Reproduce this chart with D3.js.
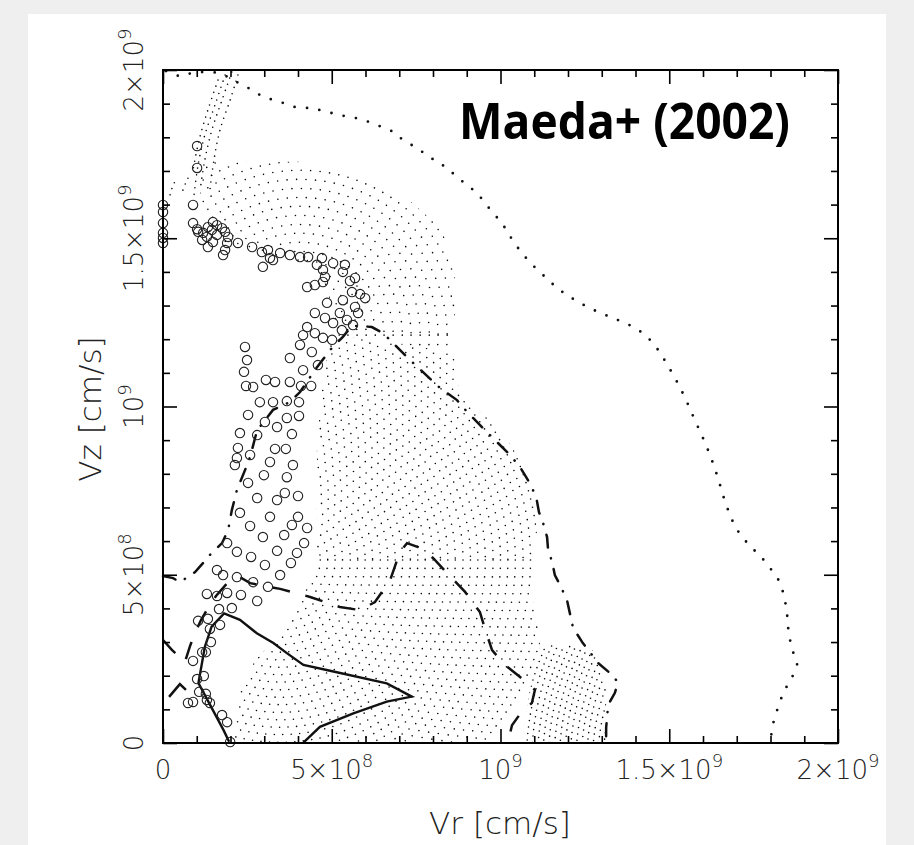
<!DOCTYPE html>
<html>
<head>
<meta charset="utf-8">
<script src="https://cdn.jsdelivr.net/npm/d3@7"></script>
<style>
  html, body { margin: 0; padding: 0; background: #efefef; }
  svg { display: block; }
</style>
</head>
<body>
<svg id="chart" width="914" height="845"></svg>
<script>
// All velocities in units of 1e8 cm/s: [Vr, Vz]

// axis ticks
const majorTicks = [0, 5, 10, 15, 20];
const minorTicks = [1,2,3,4,6,7,8,9,11,12,13,14,16,17,18,19];
const tickLabels = [["0", ""], ["5×10", "8"], ["10", "9"], ["1.5×10", "9"], ["2×10", "9"]];

// outer dotted contour
const outerDotted = [[0.09,19.97],[0.50,19.82],[0.86,19.91],[1.24,19.94],[1.63,19.91],[1.93,19.79],
  [2.19,19.64],[2.52,19.47],[2.87,19.26],[3.17,19.14],[3.56,19.02],[3.91,18.90],[4.30,18.87],
  [4.65,18.81],[5.24,18.66],[5.84,18.54],[6.43,18.33],[6.87,18.13],[7.11,17.92],[7.47,17.71],
  [7.82,17.47],[8.12,17.27],[8.41,17.09],[8.71,16.82],[9.01,16.58],[9.30,16.34],[9.54,16.05],
  [9.78,15.75],[10.04,15.45],[10.22,15.16],[10.52,14.71],[10.87,14.29],[11.32,13.85],[11.76,13.46],
  [12.30,13.11],[12.89,12.81],[13.48,12.57],[13.99,12.33],[14.37,12.04],[14.67,11.68],[14.93,11.26],
  [15.20,10.79],[15.47,10.25],[15.73,9.66],[16.00,9.06],[16.24,8.47],[16.44,7.88],[16.62,7.28],
  [16.80,6.78],[16.98,6.39],[17.24,6.03],[17.48,5.77],[17.72,5.53],[17.96,5.23],[18.19,4.93],
  [18.34,4.58],[18.43,4.22],[18.49,3.83],[18.52,3.45],[18.58,3.06],[18.67,2.70],[18.79,2.38],
  [18.67,2.02],[18.52,1.75],[18.37,1.46],[18.25,1.13],[18.13,0.77],[18.04,0.39],[18.01,0.00]];

// dash-dot contour
const dashDot = [[0.00,4.96],[0.30,4.90],[0.50,4.78],[0.95,5.08],[1.19,5.35],[1.39,5.59],[1.75,5.94],
  [1.93,6.33],[2.04,6.92],[2.19,7.52],[2.43,8.11],[2.58,8.50],[2.79,9.30],[2.96,9.51],[3.26,9.90],
  [3.76,10.13],[4.06,10.43],[4.50,11.08],[4.95,11.68],[5.33,12.07],[5.60,12.39],[5.90,12.39],
  [6.19,12.36],[6.52,12.18],[6.87,11.83],[7.32,11.38],[7.76,10.97],[8.21,10.55],[8.71,10.19],
  [9.01,9.84],[9.48,9.36],[9.78,9.06],[10.28,8.56],[10.58,8.20],[10.76,7.90],[10.93,7.61],
  [11.08,7.19],[11.14,6.86],[11.26,6.54],[11.38,6.12],[11.41,5.74],[11.53,5.38],[11.61,4.99],
  [11.76,4.70],[11.97,4.25],[12.15,3.42],[12.44,2.97],[12.71,2.62],[12.89,2.38],[13.24,2.08],
  [13.48,1.81],[13.39,1.49],[13.19,1.13],[13.13,0.45],[13.13,0.00]];

// dashed contour
const dashed = [[0.00,3.06],[0.27,2.76],[0.65,2.41],[0.80,2.88],[0.95,3.27],[1.13,3.66],[1.33,4.01],
  [1.57,4.37],[1.93,4.78],[2.28,4.93],[2.58,4.75],[3.47,4.58],[4.36,4.34],[5.24,4.04],[5.84,3.95],
  [6.28,4.19],[6.73,4.84],[7.02,5.68],[7.23,5.94],[7.56,5.82],[8.00,5.50],[8.50,4.96],[8.95,4.49],
  [9.39,3.89],[9.57,3.30],[9.75,2.76],[10.13,2.32],[10.58,1.96],[11.02,1.58],[10.93,1.19],
  [10.58,0.86],[10.34,0.53],[10.22,0.00]];
const dashedPiece = [[0.18,1.37],[0.50,1.75],[0.68,1.58]];

// solid contour
const solid = [[1.96,0.04],[1.79,0.39],[1.05,1.78],[1.24,2.86],[1.44,3.46],[1.81,3.85],[2.28,3.66],
  [2.78,3.26],[3.27,2.97],[3.67,2.67],[4.16,2.32],[4.85,2.17],[6.63,1.77],[7.37,1.38],[6.63,1.23],
  [5.64,0.88],[4.65,0.48],[4.16,0.01]];

// open-circle particles
const circles = [
  [0,15.99],[0,15.78],[0,15.45],[0,15.16],[0,15.01],[0,14.86],
  [1.01,17.74],[1.01,17.09],[0.89,15.99],[0.89,15.45],
  [1.04,15.19],[1.19,15.16],[1.33,15.33],[1.48,15.48],[1.60,15.39],[1.45,15.25],[1.30,15.04],
  [1.16,14.95],[1.33,14.74],[1.75,15.30],[1.84,15.19],[1.93,15.04],[1.90,14.86],[1.84,14.65],
  [1.78,14.50],[1.60,15.10],[1.48,14.89],[1.01,15.27],
  [2.22,14.86],[2.64,14.74],[2.93,14.59],[3.11,14.65],[3.17,14.41],[2.96,14.15],[3.26,14.35],
  [3.47,14.56],[3.76,14.50],[4.06,14.44],[4.27,13.55],
  [4.30,14.44],[4.71,14.41],[4.56,14.21],[4.74,14.06],[4.80,13.85],[4.74,13.70],[4.50,13.61],
  [5.04,14.26],[5.39,14.21],[5.33,14.00],[5.69,13.82],[5.54,13.73],[5.60,13.40],[5.84,13.34],
  [5.99,13.22],[5.33,13.16],[5.69,12.96],[5.78,12.78],[4.86,13.08],[5.24,12.78],[4.50,12.78],
  [4.80,12.63],[5.04,12.48],[5.45,12.57],[5.63,12.42],[5.30,12.27],[4.27,12.36],[4.50,12.18],
  [4.74,12.04],[5.01,11.98],[4.15,12.12],
  [4.06,11.83],[4.41,11.62],[3.76,11.44],[4.59,11.23],[4.15,11.08],[2.43,11.77],[2.49,11.38],[2.40,11.03],
  [2.46,10.61],[2.67,10.58],[3.05,10.79],[3.32,10.73],[3.76,10.73],[4.09,10.61],[4.39,10.61],
  [2.87,10.13],[3.26,10.13],[3.67,10.16],[4.03,10.13],[2.52,9.75],[3.67,9.66],[4.03,9.72],
  [3.02,9.54],[3.38,9.39],[2.28,9.21],[2.79,9.15],[3.82,9.18],[2.22,8.77],[2.19,8.47],[2.13,8.26],
  [2.58,8.56],[3.32,8.74],[3.64,8.74],[3.17,8.35],[3.85,8.26],[2.99,7.96],[3.67,7.90],[2.52,7.73],
  [2.79,7.28],[3.38,7.22],[3.61,7.43],[4.00,7.34],[2.28,6.84],[2.58,6.45],[3.17,6.72],[3.82,6.48],
  [4.00,6.72],[4.27,6.39],[2.96,6.12],[3.59,6.18],[1.90,5.94],[2.19,5.68],[2.61,5.53],[3.38,5.71],
  [3.97,5.65],[4.18,5.94],[1.60,5.14],[1.78,4.99],[2.19,4.93],[3.02,5.29],[3.47,4.99],[3.79,5.35],
  [2.67,4.78],[3.11,4.64],[1.30,4.43],[1.60,4.37],[1.90,4.46],[2.31,4.40],[2.79,4.22],[1.66,3.98],
  [2.04,4.01],[1.04,3.63],[1.33,3.69],[1.69,3.51],[1.39,3.39],[1.42,3.00],[1.16,2.70],[1.27,2.70],
  [0.89,2.44],[1.21,1.99],[1.01,1.90],[1.07,1.52],[1.27,1.46],[1.30,1.28],[1.39,1.19],[0.74,1.19],
  [0.89,1.22],[1.75,0.83],[1.90,0.62],[1.99,0.03]];

// dense particle field: rows of the mesh, each region traced as concentric arcs
const fanCenter = [4.06, 12.12];
const fanRadii = [0.89,1.16,1.42,1.69,1.96,2.23,2.49,2.76,3.03,3.29,3.56,3.83,4.09,4.36,4.63,4.90,5.16,5.43,5.70];
const fanOutline = [[1.10,17.09],[1.54,17.27],[4.06,17.27],[5.84,16.86],[7.32,16.11],[8.21,15.33],
  [8.65,14.29],[8.65,11.62],[5.10,12.12],[4.95,13.16],[4.65,14.00],[4.06,14.29],[3.17,14.50],
  [2.28,14.74],[1.45,15.01],[1.10,15.84]];

const bodyCenter = [3.47, 5.44];
const bodyRadii = [1.19,1.41,1.63,1.85,2.08,2.30,2.52,2.74,2.97,3.19,3.41,3.63,3.86,4.08,4.30,4.53,
  4.75,4.97,5.19,5.42,5.64,5.86,6.08,6.31,6.53,6.75,6.97,7.20,7.42,7.64,7.86,8.08];
const bodyOutline = [[5.10,12.12],[8.65,11.62],[8.74,10.64],[9.01,10.19],[9.78,9.51],[10.34,8.80],
  [10.79,8.11],[10.96,7.31],[11.08,6.33],[11.02,5.65],[10.93,4.99],[10.96,4.25],[11.11,3.51],
  [11.17,2.91],[10.87,1.58],[10.64,0],[2.07,0],[2.28,1.58],[2.73,2.47],[3.61,3.36],[4.21,4.55],
  [4.56,6.33],[4.56,8.71],[4.71,10.79],[4.95,11.83]];

const tailCenter = [18.87, -0.51];
const tailRadii = [5.82,5.98,6.14,6.31,6.47,6.63,6.80,6.96,7.12,7.28,7.45,7.61,7.77,7.94,8.10,8.26,8.43];
const tailOutline = [[11.17,2.91],[12.21,2.91],[12.74,2.76],[12.95,2.32],[13.13,1.58],[13.13,0],
  [10.64,0],[10.87,1.58]];

// narrow stream of particles near the top
const neckRows = [
  [[2.04,19.94],[1.75,19.11],[1.45,18.22],[1.24,17.33],[1.10,16.43]],
  [[1.84,19.85],[1.54,18.96],[1.24,18.07],[1.04,17.18],[0.92,16.29]],
  [[1.63,19.70],[1.33,18.81],[1.07,17.92],[0.89,17.03]],
  [[2.22,19.85],[1.99,19.11],[1.69,18.22],[1.51,17.33],[1.39,16.43]],
  [[0.21,16.29],[0.30,16.58],[0.42,16.79]],
  [[0.59,16.43],[0.71,16.73],[0.80,16.88]]
];

// ---------------------------------------------------------------
const svg = d3.select("#chart");
const plotLeft = 163, plotRight = 838, plotTop = 70, plotBottom = 743;
const x = d3.scaleLinear().domain([0, 20]).range([plotLeft, plotRight]);
const y = d3.scaleLinear().domain([0, 20]).range([plotBottom, plotTop]);

svg.append("rect").attr("x", 28).attr("y", 14).attr("width", 858).attr("height", 831).attr("fill", "#fff");

const defs = svg.append("defs");
const outline = d3.line().x(d => x(d[0])).y(d => y(d[1]));
[["clipFan", fanOutline], ["clipBody", bodyOutline], ["clipTail", tailOutline]].forEach(([id, pts]) => {
  defs.append("clipPath").attr("id", id).append("path").attr("d", outline(pts) + "Z");
});

const dotColor = "#0a0a0a";
function arcFamily(id, center, radii, gap) {
  svg.append("g").attr("clip-path", `url(#${id})`)
    .selectAll("ellipse").data(radii).join("ellipse")
    .attr("cx", x(center[0])).attr("cy", y(center[1]))
    .attr("rx", r => x(r) - x(0)).attr("ry", r => y(0) - y(r))
    .attr("fill", "none").attr("stroke", dotColor).attr("stroke-width", 1.6)
    .attr("stroke-linecap", "round").attr("stroke-dasharray", `0 ${gap}`);
}
arcFamily("clipFan", fanCenter, fanRadii, 9.5);
arcFamily("clipBody", bodyCenter, bodyRadii, 8.5);
arcFamily("clipTail", tailCenter, tailRadii, 6.5);

const straight = d3.line().x(d => x(d[0])).y(d => y(d[1]));
const smooth = d3.line().x(d => x(d[0])).y(d => y(d[1])).curve(d3.curveCatmullRom.alpha(0.5));

svg.append("g").selectAll("path").data(neckRows).join("path")
  .attr("d", smooth).attr("fill", "none").attr("stroke", dotColor).attr("stroke-width", 1.6)
  .attr("stroke-linecap", "round").attr("stroke-dasharray", "0 6.5");

// contours
svg.append("path").attr("d", smooth(outerDotted)).attr("fill", "none").attr("stroke", "#111")
  .attr("stroke-width", 2.8).attr("stroke-linecap", "round").attr("stroke-dasharray", "0 12.5");
svg.append("path").attr("d", straight(dashDot)).attr("fill", "none").attr("stroke", "#111")
  .attr("stroke-width", 2.5).attr("stroke-linecap", "round").attr("stroke-dasharray", "13 11 0.3 11");
svg.append("path").attr("d", straight(dashed)).attr("fill", "none").attr("stroke", "#111")
  .attr("stroke-width", 2.5).attr("stroke-dasharray", "18 16");
svg.append("path").attr("d", straight(dashedPiece)).attr("fill", "none").attr("stroke", "#111")
  .attr("stroke-width", 2.5);
svg.append("path").attr("d", straight(solid)).attr("fill", "none").attr("stroke", "#111")
  .attr("stroke-width", 2.4).attr("stroke-linejoin", "miter");

// particles
svg.append("g").selectAll("circle").data(circles).join("circle")
  .attr("cx", d => x(d[0])).attr("cy", d => y(d[1])).attr("r", 4.7)
  .attr("fill", "none").attr("stroke", "#222").attr("stroke-width", 1.1);

// frame and ticks (pointing inward on all four sides)
function ticks(axisFn, scale, values, size, transform) {
  const g = svg.append("g").attr("transform", transform)
    .call(axisFn(scale).tickValues(values).tickSize(-size).tickSizeOuter(0).tickFormat(""));
  g.select(".domain").remove();
  g.selectAll("line").attr("stroke", "#000").attr("stroke-width", 1.6);
}
ticks(d3.axisBottom, x, majorTicks, 14, `translate(0,${plotBottom})`);
ticks(d3.axisBottom, x, minorTicks, 7, `translate(0,${plotBottom})`);
ticks(d3.axisTop, x, majorTicks, 14, `translate(0,${plotTop})`);
ticks(d3.axisTop, x, minorTicks, 7, `translate(0,${plotTop})`);
ticks(d3.axisLeft, y, majorTicks, 14, `translate(${plotLeft},0)`);
ticks(d3.axisLeft, y, minorTicks, 7, `translate(${plotLeft},0)`);
ticks(d3.axisRight, y, majorTicks, 14, `translate(${plotRight},0)`);
ticks(d3.axisRight, y, minorTicks, 7, `translate(${plotRight},0)`);

svg.append("rect").attr("x", plotLeft).attr("y", plotTop)
  .attr("width", plotRight - plotLeft).attr("height", plotBottom - plotTop)
  .attr("fill", "none").attr("stroke", "#000").attr("stroke-width", 2);

// tick labels
const labelFont = "'DejaVu Sans', sans-serif";
function label(g, parts) {
  g.append("tspan").text(parts[0]);
  if (parts[1]) g.append("tspan").attr("dy", -12).attr("font-size", 18).text(parts[1]);
}
majorTicks.forEach((v, i) => {
  const t = svg.append("text").attr("x", x(v)).attr("y", 779)
    .attr("text-anchor", "middle").attr("font-family", labelFont).attr("font-weight", 200)
    .attr("font-size", 26).attr("fill", "#222");
  label(t, tickLabels[i]);
  const ty = svg.append("text").attr("transform", `translate(143,${y(v)}) rotate(-90)`)
    .attr("text-anchor", "middle").attr("font-family", labelFont).attr("font-weight", 200)
    .attr("font-size", 26).attr("fill", "#222");
  label(ty, tickLabels[i]);
});

// axis titles
svg.append("text").attr("x", 500).attr("y", 834).attr("text-anchor", "middle")
  .attr("font-family", labelFont).attr("font-weight", 200).attr("font-size", 31).attr("fill", "#222")
  .text("Vr [cm/s]");
svg.append("text").attr("transform", "translate(101,409) rotate(-90)").attr("text-anchor", "middle")
  .attr("font-family", labelFont).attr("font-weight", 200).attr("font-size", 31).attr("fill", "#222")
  .text("Vz [cm/s]");

// reference label
svg.append("text").attr("x", 459).attr("y", 139)
  .attr("font-family", "'Open Sans', sans-serif").attr("font-weight", 700).attr("font-size", 50)
  .attr("textLength", 331).attr("lengthAdjust", "spacingAndGlyphs").attr("fill", "#000")
  .text("Maeda+ (2002)");
</script>
</body>
</html>
